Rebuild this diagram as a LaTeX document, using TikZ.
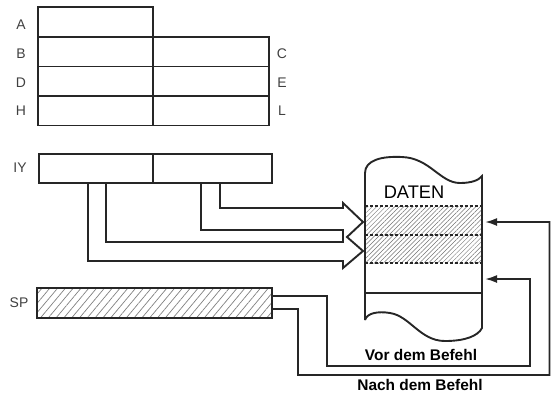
\documentclass[tikz,border=0pt]{standalone}
\usepackage{fontspec}
\setmainfont{Liberation Sans}
\usetikzlibrary{arrows.meta,patterns.meta,calc}
\begin{document}
\begin{tikzpicture}[x=1bp,y=-1bp,line join=miter]
\tikzset{
  cell/.style={draw=black!85,line width=1.3bp,inner sep=0,outer sep=0,rectangle},
  lbl/.style={font=\fontsize{14}{14}\selectfont,text=black!75,inner sep=0},
  conn/.style={draw=black!85,line width=1.9bp},
  tip/.style={-{Latex[length=12bp,width=8bp]}},
  hatchA/.style={pattern={Lines[angle=45,distance=3.2pt,line width=0.5pt]},pattern color=black!55},
  hatchB/.style={pattern={Lines[angle=50,distance=6pt,line width=0.7pt]},pattern color=black!50},
  caption/.style={font=\bfseries\fontsize{15.5}{15.5}\selectfont,inner sep=0,anchor=base}
}
\useasboundingbox (0,0) rectangle (551,394);

% register file
\node[cell,minimum width=115bp,minimum height=30bp] (A) at (95.5,22) {};
\node[cell,minimum width=115bp,minimum height=29.5bp] (B) at (95.5,51.75) {};
\node[cell,minimum width=116bp,minimum height=29.5bp] (C) at (211,51.75) {};
\node[cell,minimum width=115bp,minimum height=29.5bp] (D) at (95.5,81.25) {};
\node[cell,minimum width=116bp,minimum height=29.5bp] (E) at (211,81.25) {};
\node[cell,minimum width=115bp,minimum height=29.5bp] (H) at (95.5,110.75) {};
\node[cell,minimum width=116bp,minimum height=29.5bp] (L) at (211,110.75) {};
\node[lbl] (lA) at (21,25) {A};
\node[lbl] (lB) at (21,54) {B};
\node[lbl] (lD) at (21,82.5) {D};
\node[lbl] (lH) at (21,111) {H};
\node[lbl] (lC) at (282,54) {C};
\node[lbl] (lE) at (282,83) {E};
\node[lbl] (lL) at (282,111) {L};

% IY
\node[cell,minimum width=114bp,minimum height=29bp] (IYh) at (96,168.5) {};
\node[cell,minimum width=119bp,minimum height=29bp] (IYl) at (212.5,168.5) {};
\node[lbl] (lIY) at (20,168) {IY};

% SP
\node[cell,hatchB,minimum width=235bp,minimum height=30bp] (SP) at (154.5,303) {};
\node[lbl] (lSP) at (19,303) {SP};

% memory rows
\node[inner sep=0,outer sep=0,minimum width=117bp,minimum height=29bp] (m1) at (423.5,220.5) {};
\node[inner sep=0,outer sep=0,minimum width=117bp,minimum height=28bp] (m2) at (423.5,249) {};
\node[inner sep=0,outer sep=0,minimum width=117bp,minimum height=30bp] (m3) at (423.5,278) {};
\fill[hatchA] (m1.north west) rectangle (m2.south east);
\draw[black!85,line width=1.2bp,dash pattern=on 3pt off 2pt] (m1.north west) -- (m1.north east);
\draw[black!85,line width=1.2bp,dash pattern=on 3pt off 2pt] (m1.south west) -- (m1.south east);
\draw[black!85,line width=1.2bp,dash pattern=on 3pt off 2pt] (m2.south west) -- (m2.south east);
\draw[black!85,line width=1.2bp] (m3.south west) -- (m3.south east);

% memory outline
\draw[conn] (365,320) -- (365,173)
  .. controls (365,160) and (382,156) .. (402,157)
  .. controls (430,158) and (440,183) .. (460,183)
  .. controls (472,183) and (479,180) .. (482,176)
  -- (482,328)
  .. controls (478,336) and (465,341) .. (445,341)
  .. controls (420,341) and (410,316) .. (390,313)
  .. controls (378,311) and (367,313) .. (365,320);
\node[font=\fontsize{18.3}{18.3}\selectfont,inner sep=0,anchor=base] (daten) at (414,198) {DATEN};

% hollow arrows from IY
\coordinate (i1) at ($(IYl.south west)+(67,0)$);
\coordinate (i2) at ($(IYl.south west)+(48,0)$);
\coordinate (i3) at ($(IYh.south west)+(67,0)$);
\coordinate (i4) at ($(IYh.south west)+(49,0)$);
\draw[conn] (i1) -- (i1 |- 0,208) -- (343,208) -- (343,203) -- (363,222) -- (347,237)
  -- (363,251) -- (343,268) -- (343,261) -- (i4 |- 0,261) -- (i4);
\draw[conn] (i2) -- (i2 |- 0,230) -- (343,230) -- (343,242) -- (i3 |- 0,242) -- (i3);

% SP pointers
\coordinate (s1) at ($(SP.east)+(0,-7)$);
\coordinate (s2) at ($(SP.east)+(0,6)$);
\coordinate (t1) at ($(m1.east)+(3,1.5)$);
\coordinate (t3) at ($(m3.east)+(3,1)$);
\draw[conn,tip] (s1) -- (327,296) -- (327,366) -- (530,366) -- (530,279) -- (t3);
\draw[conn,tip] (s2) -- (298,309) -- (298,375) -- (549.5,375) -- (549.5,222) -- (t1);

\node[caption] (vor) at (421,360) {Vor dem Befehl};
\node[caption] (nach) at (420,390.5) {Nach dem Befehl};
\end{tikzpicture}
\end{document}
